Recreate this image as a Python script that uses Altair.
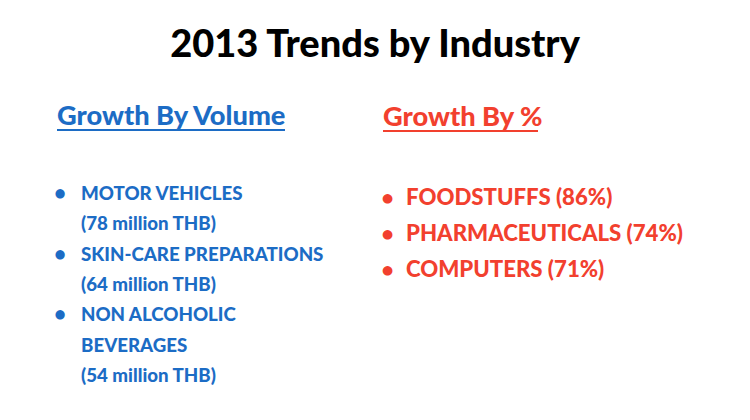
import pandas as pd
import altair as alt

# slide text
title_text = "2013 Trends by Industry"
volume_header = "Growth By Volume"
percent_header = "Growth By %"

volume_names = [["MOTOR VEHICLES"], ["SKIN-CARE PREPARATIONS"], ["NON ALCOHOLIC", "BEVERAGES"]]
volume_values = [78, 64, 54]
volume_unit = "million THB"

percent_names = ["FOODSTUFFS", "PHARMACEUTICALS", "COMPUTERS"]
percent_values = [86, 74, 71]

BLUE = "#1c6cc5"
RED = "#f2402e"
FONT = "Lato"
WEIGHT = 900

# layout (page pixels)
LEFT_X, RIGHT_X = 81, 406
LEFT_TOP, LEFT_STEP = 200, 30.3
RIGHT_TOP, RIGHT_STEP = 205, 35.8

rows = []
line = 0
for names, val in zip(volume_names, volume_values):
    lines = names + ["(%d %s)" % (val, volume_unit)]
    for j, t in enumerate(lines):
        rows.append({"text": t, "x": LEFT_X, "y": LEFT_TOP + line * LEFT_STEP,
                     "side": "volume", "bullet": j == 0})
        line += 1
for i, (name, val) in enumerate(zip(percent_names, percent_values)):
    rows.append({"text": "%s (%d%%)" % (name, val), "x": RIGHT_X,
                 "y": RIGHT_TOP + i * RIGHT_STEP, "side": "percent", "bullet": True})
items = pd.DataFrame(rows)
left_items = items[items.side == "volume"]
right_items = items[items.side == "percent"]

headers = pd.DataFrame({
    "text": [volume_header, percent_header],
    "x": [57, 383], "y": [125, 126], "x2": [285, 538], "uy": [130, 131],
    "side": ["volume", "percent"],
})
title = pd.DataFrame({"text": [title_text], "x": [375], "y": [57]})

xs = alt.Scale(domain=[8, 742])
ys = alt.Scale(domain=[8, 412], reverse=True)
col = alt.Color("side:N", scale=alt.Scale(domain=["volume", "percent"], range=[BLUE, RED]), legend=None)

def pos():
    return dict(x=alt.X("x:Q", scale=xs, axis=None), y=alt.Y("y:Q", scale=ys, axis=None))

title_layer = alt.Chart(title).mark_text(
    font=FONT, fontWeight=WEIGHT, fontSize=38, color="black", baseline="alphabetic", align="center"
).encode(text="text:N", **pos())

header_layer = alt.Chart(headers).mark_text(
    font=FONT, fontWeight=WEIGHT, fontSize=27.2, baseline="alphabetic", align="left"
).encode(text="text:N", color=col, **pos())

underline = alt.Chart(headers).mark_rule(strokeWidth=2).encode(
    x=alt.X("x:Q", scale=xs, axis=None), x2="x2:Q",
    y=alt.Y("uy:Q", scale=ys, axis=None), color=col,
)

left_text = alt.Chart(left_items).mark_text(
    font=FONT, fontWeight=WEIGHT, fontSize=18.7, baseline="alphabetic", align="left"
).encode(text="text:N", color=col, **pos())

right_text = alt.Chart(right_items).mark_text(
    font=FONT, fontWeight=WEIGHT, fontSize=22.2, baseline="alphabetic", align="left"
).encode(text="text:N", color=col, **pos())

left_bullets = alt.Chart(left_items[left_items.bullet]).mark_text(
    font=FONT, fontWeight=WEIGHT, fontSize=20, baseline="alphabetic", align="center", text="•", dx=-21
).encode(color=col, **pos())

right_bullets = alt.Chart(right_items).mark_text(
    font=FONT, fontWeight=WEIGHT, fontSize=21, baseline="alphabetic", align="center", text="•", dx=-18.5
).encode(color=col, **pos())

chart = alt.layer(
    title_layer, header_layer, underline, left_text, right_text, left_bullets, right_bullets
).properties(
    width=734, height=404, padding=0, autosize=alt.AutoSizeParams(type="none")
).configure_view(stroke=None)

chart.save("out.html", embed_options={"renderer": "svg", "actions": False})
